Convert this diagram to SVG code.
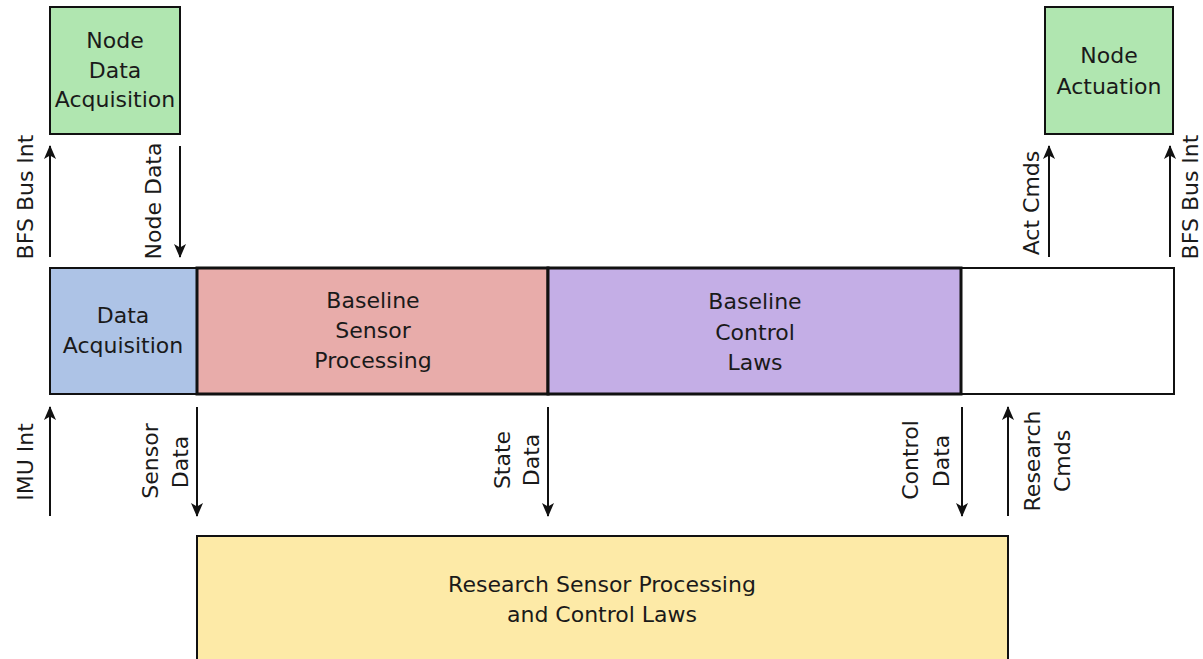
<svg xmlns="http://www.w3.org/2000/svg" width="1203" height="659" viewBox="0 0 1203 659">
<style>
text{font-family:"DejaVu Sans","Liberation Sans",sans-serif;font-size:22px;fill:#1a1a1a;text-anchor:middle}
.box{stroke:#111;stroke-width:2}
.thick{stroke:#111;stroke-width:3}
.arr{stroke:#111;stroke-width:2;fill:none;marker-end:url(#ah)}
</style>
<defs>
<marker id="ah" markerWidth="14" markerHeight="12" refX="13" refY="6" orient="auto" markerUnits="userSpaceOnUse">
<path d="M0,0 L14,6 L0,12 L3.5,6 Z" fill="#111"/>
</marker>
</defs>
<rect width="1203" height="659" fill="#fff"/>
<g id="node-data-acq">
<rect class="box" x="50" y="7" width="130" height="127" fill="#b0e6b0"/>
<text x="115" y="48">Node</text>
<text x="115" y="78">Data</text>
<text x="115" y="107">Acquisition</text>
</g>
<g id="node-actuation">
<rect class="box" x="1045" y="7" width="128" height="127" fill="#b0e6b0"/>
<text x="1109" y="63">Node</text>
<text x="1109" y="94">Actuation</text>
</g>
<g id="band">
<rect class="box" x="50" y="268" width="1124" height="126" fill="#fff"/>
</g>
<g id="data-acq">
<rect class="box" x="50" y="268" width="147" height="126" fill="#adc3e6"/>
<text x="123" y="323">Data</text>
<text x="123" y="353">Acquisition</text>
</g>
<g id="baseline-sensor">
<rect class="thick" x="197" y="268" width="351" height="126" fill="#e8acaa"/>
<text x="373" y="308">Baseline</text>
<text x="373" y="338">Sensor</text>
<text x="373" y="368">Processing</text>
</g>
<g id="baseline-control">
<rect class="thick" x="548" y="268" width="413" height="126" fill="#c4aee6"/>
<text x="755" y="309">Baseline</text>
<text x="755" y="340">Control</text>
<text x="755" y="370">Laws</text>
</g>
<g id="research">
<rect class="box" x="197" y="536" width="811" height="140" fill="#fdeaa7"/>
<text x="602" y="592">Research Sensor Processing</text>
<text x="602" y="622">and Control Laws</text>
</g>
<g id="connectors">
<line class="arr" x1="50" y1="257" x2="50" y2="146"/>
<line class="arr" x1="180" y1="146" x2="180" y2="257"/>
<line class="arr" x1="1049" y1="257" x2="1049" y2="146"/>
<line class="arr" x1="1170" y1="257" x2="1170" y2="146"/>
<line class="arr" x1="50" y1="516" x2="50" y2="407"/>
<line class="arr" x1="197" y1="407" x2="197" y2="516"/>
<line class="arr" x1="548" y1="407" x2="548" y2="516"/>
<line class="arr" x1="962" y1="407" x2="962" y2="516"/>
<line class="arr" x1="1008" y1="516" x2="1008" y2="407"/>
<text transform="translate(33,197) rotate(-90)">BFS Bus Int</text>
<text transform="translate(161,201) rotate(-90)">Node Data</text>
<text transform="translate(1039,203) rotate(-90)">Act Cmds</text>
<text transform="translate(1198,197) rotate(-90)">BFS Bus Int</text>
<text transform="translate(33,462) rotate(-90)">IMU Int</text>
<text transform="translate(158,461) rotate(-90)">Sensor</text>
<text transform="translate(188,462) rotate(-90)">Data</text>
<text transform="translate(510,460) rotate(-90)">State</text>
<text transform="translate(539,460) rotate(-90)">Data</text>
<text transform="translate(918,460) rotate(-90)">Control</text>
<text transform="translate(949,461) rotate(-90)">Data</text>
<text transform="translate(1040,461) rotate(-90)">Research</text>
<text transform="translate(1070,461) rotate(-90)">Cmds</text>
</g>
</svg>
